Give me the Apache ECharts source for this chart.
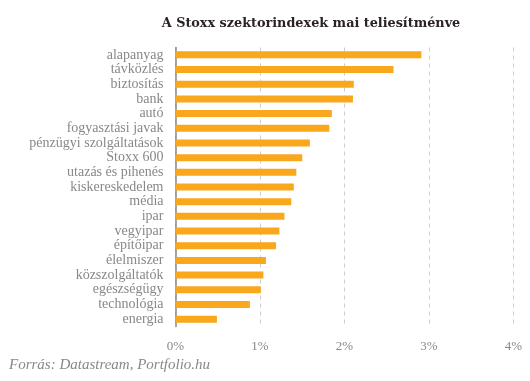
<!DOCTYPE html>
<html>
<head>
<meta charset="utf-8">
<script src="https://cdn.jsdelivr.net/npm/echarts@6/dist/echarts.min.js"></script>
<style>html,body{margin:0;padding:0;background:#fff;}#chart{width:530px;height:381px;}</style>
</head>
<body>
<div id="chart"></div>
<script>
const categories = ["alapanyag","távközlés","biztosítás","bank","autó","fogyasztási javak","pénzügyi szolgáltatások","Stoxx 600","utazás és pihenés","kiskereskedelem","média","ipar","vegyipar","építőipar","élelmiszer","közszolgáltatók","egészségügy","technológia","energia"];
const values = [2.91,2.58,2.11,2.10,1.85,1.82,1.59,1.50,1.43,1.40,1.37,1.29,1.23,1.19,1.07,1.04,1.01,0.88,0.49];
const tickLabels = ["0%","1%","2%","3%","4%"];
const titleText = "A Stoxx szektorindexek mai teliesítménve";
const sourceText = "Forrás: Datastream, Portfolio.hu";

const chart = echarts.init(document.getElementById('chart'), null, {renderer:'canvas'});
chart.setOption({
  animation:false,
  title:{text:titleText,left:306,textAlign:'center',top:12,
    textStyle:{fontFamily:'DejaVu Serif',fontWeight:'bold',fontSize:12.8,color:'#2a2226'}},
  graphic:[{type:'text',left:9,top:358,style:{text:sourceText,font:'italic 15px "Liberation Serif"',fill:'#888'}}],
  grid:{left:175.5,right:16.5,top:47.5,bottom:54.5,containLabel:false},
  xAxis:{type:'value',min:0,max:4,interval:1,
    axisLine:{show:false},axisTick:{show:false},
    axisLabel:{formatter:function(v){return tickLabels[Math.round(v)];},color:'#888',fontFamily:'Liberation Serif',fontSize:13,margin:14},
    splitLine:{show:true,lineStyle:{color:'#cccccc',type:[4,4],width:1}}},
  yAxis:{type:'category',data:categories,inverse:true,
    axisLine:{show:true,lineStyle:{color:'#888',width:1.5}},axisTick:{show:false},
    axisLabel:{interval:0,color:'#888',fontFamily:'Liberation Serif',fontSize:14,margin:12}},
  series:[{type:'bar',data:values,barWidth:7,itemStyle:{color:'#F9A71C'},silent:true}]
});
</script>
</body>
</html>
